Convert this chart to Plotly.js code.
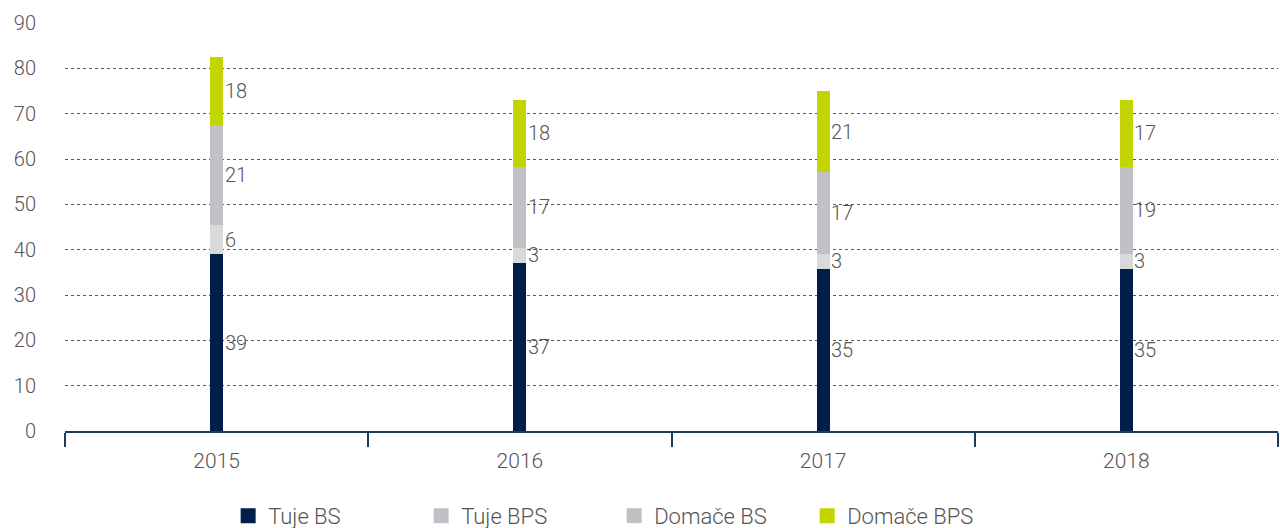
<!DOCTYPE html>
<html>
<head>
<meta charset="utf-8">
<script src="https://cdn.plot.ly/plotly-3.0.1.min.js"></script>
<style>html,body{margin:0;padding:0;background:#fff;}#chart{width:1280px;height:528px;}</style>
</head>
<body>
<div id="chart"></div>
<script>
var years = ['2015', '2016', '2017', '2018'];
var seriesNames = ['Tuje BS', 'Tuje BPS', 'Domače BS', 'Domače BPS'];
var tujeBS = [39.0, 37.1, 35.8, 35.8];
var tujeBPS = [6.4, 3.3, 3.3, 3.3];
var domaceBS = [22.1, 17.9, 18.1, 19.2];
var domaceBPS = [14.9, 14.8, 17.7, 14.8];
var labelsTujeBS = ['39', '37', '35', '35'];
var labelsTujeBPS = ['6', '3', '3', '3'];
var labelsDomaceBS = ['21', '17', '17', '19'];
var labelsDomaceBPS = ['18', '18', '21', '17'];
var yTicks = [0, 10, 20, 30, 40, 50, 60, 70, 80, 90];

var seriesValues = [tujeBS, tujeBPS, domaceBS, domaceBPS];
var seriesLabels = [labelsTujeBS, labelsTujeBPS, labelsDomaceBS, labelsDomaceBPS];
var colors = ['#001f4b', '#d8d9db', '#c0c1c5', '#c3d500'];
var legendColors = ['#001f4b', '#c0c1c5', '#c0c1c5', '#c3d500'];

var FONT = 'Roboto, "DejaVu Sans", sans-serif';
var TXT = '#555555';

var traces = seriesNames.map(function (name, i) {
  return {
    type: 'bar',
    name: name,
    x: years,
    y: seriesValues[i],
    width: 0.043,
    showlegend: false,
    marker: { color: colors[i], line: { width: 0 } },
    hoverinfo: 'x+y+name'
  };
});
// legend entries (square swatches as in the reference)
seriesNames.forEach(function (name, i) {
  traces.push({
    type: 'scatter', mode: 'markers', name: name,
    x: [null], y: [null],
    marker: { symbol: 'square', size: 15, color: legendColors[i] },
    showlegend: true, hoverinfo: 'skip'
  });
});

var annotations = [];
years.forEach(function (yr, j) {
  var base = 0;
  seriesValues.forEach(function (vals, i) {
    annotations.push({
      x: j, y: base + vals[j] / 2,
      xref: 'x', yref: 'y',
      text: seriesLabels[i][j],
      showarrow: false,
      xanchor: 'left', yanchor: 'middle',
      xshift: 6,
      font: { family: FONT, size: 20, color: TXT, weight: 300 }
    });
    base += vals[j];
  });
});

var layout = {
  width: 1280, height: 528,
  margin: { l: 65, r: 2, t: 23, b: 97, autoexpand: false },
  paper_bgcolor: '#ffffff', plot_bgcolor: '#ffffff',
  barmode: 'stack',
  font: { family: FONT, size: 19, color: TXT, weight: 300 },
  showlegend: true,
  legend: {
    orientation: 'h',
    xref: 'paper', yref: 'paper',
    x: 0.1345, xanchor: 'left',
    y: -0.208, yanchor: 'middle',
    entrywidth: 148, entrywidthmode: 'pixels',
    font: { family: FONT, size: 22, color: TXT, weight: 300 },
    traceorder: 'normal'
  },
  xaxis: {
    type: 'category',
    range: [-0.5, 3.5], autorange: false,
    showline: true, linecolor: '#1f3a5f', linewidth: 2,
    ticks: 'outside', tickson: 'boundaries', ticklen: 14, tickwidth: 2, tickcolor: '#1f3a5f',
    ticklabelstandoff: 10,
    showgrid: false,
    tickfont: { family: FONT, size: 21, color: TXT, weight: 300 },
    fixedrange: true
  },
  yaxis: {
    range: [0, 90], autorange: false,
    tickvals: yTicks,
    showgrid: true, gridcolor: '#5a5a5a', gridwidth: 1, griddash: 'dot',
    zeroline: false, showline: false, ticks: '',
    ticklabelstandoff: 28,
    tickfont: { family: FONT, size: 20, color: TXT, weight: 300 },
    fixedrange: true
  },
  annotations: annotations
};

Plotly.newPlot('chart', traces, layout, { displayModeBar: false, staticPlot: true });
</script>
</body>
</html>
